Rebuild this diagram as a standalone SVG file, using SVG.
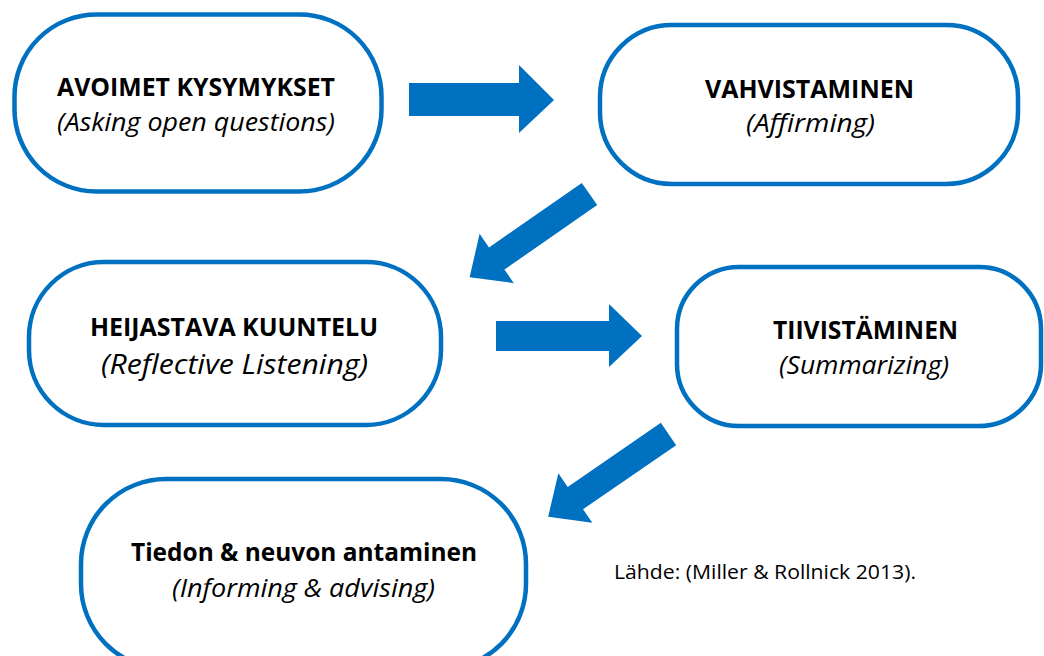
<svg xmlns="http://www.w3.org/2000/svg" width="1044" height="656" viewBox="0 0 1044 656">
<style>
.node{fill:#ffffff;stroke:#0070C0;stroke-width:4.5}
.arrow{fill:#0070C0;stroke:none}
.b{font-family:"Open Sans","Noto Sans","Liberation Sans",sans-serif;font-weight:bold;font-size:25px;fill:#000}
.i{font-family:"Open Sans","Noto Sans","Liberation Sans",sans-serif;font-style:italic;font-size:25px;fill:#000}
.r{font-family:"Open Sans","Noto Sans","Liberation Sans",sans-serif;font-size:20px;fill:#000}
</style>
<defs>
<polygon id="diag" points="0,-13.5 113,-13.5 113,-30 146,0 113,30 113,13.5 0,13.5"/>
</defs>
<rect width="1044" height="656" fill="#ffffff"/>
<g id="connectors">
<polygon class="arrow" points="409,83 519,83 519,65 554,100 519,133 519,116 409,116"/>
<use href="#diag" class="arrow" transform="translate(589.5,194) rotate(145.2)"/>
<polygon class="arrow" points="496,321 609,321 609,304 642,336 609,367 609,351 496,351"/>
<use href="#diag" class="arrow" transform="translate(668.5,434) rotate(145.5)"/>
</g>
<g id="node-avoimet">
<rect class="node" x="14.5" y="14.5" width="367" height="177" rx="82" ry="82"/>
<text class="b" x="57" y="96" textLength="278" lengthAdjust="spacingAndGlyphs">AVOIMET KYSYMYKSET</text>
<text class="i" x="57" y="131" textLength="278" lengthAdjust="spacingAndGlyphs">(Asking open questions)</text>
</g>
<g id="node-vahvistaminen">
<rect class="node" x="600" y="25" width="418" height="159" rx="72" ry="72"/>
<text class="b" x="705" y="98" textLength="209" lengthAdjust="spacingAndGlyphs">VAHVISTAMINEN</text>
<text class="i" x="746" y="132" textLength="129" lengthAdjust="spacingAndGlyphs">(Affirming)</text>
</g>
<g id="node-heijastava">
<rect class="node" x="29" y="262" width="412" height="163" rx="75" ry="75"/>
<text class="b" x="90" y="336" textLength="288" lengthAdjust="spacingAndGlyphs">HEIJASTAVA KUUNTELU</text>
<text class="i" x="101" y="374" style="font-size:28px" textLength="267" lengthAdjust="spacingAndGlyphs">(Reflective Listening)</text>
</g>
<g id="node-tiivistaminen">
<rect class="node" x="677" y="267" width="364" height="159" rx="62" ry="62"/>
<text class="b" x="773" y="339" textLength="185" lengthAdjust="spacingAndGlyphs">TIIVISTÄMINEN</text>
<text class="i" x="779" y="374" textLength="170" lengthAdjust="spacingAndGlyphs">(Summarizing)</text>
</g>
<g id="node-tiedon">
<rect class="node" x="81" y="479" width="445" height="190" rx="85" ry="85"/>
<text class="b" x="131" y="561" textLength="346" lengthAdjust="spacingAndGlyphs">Tiedon &amp; neuvon antaminen</text>
<text class="i" x="172" y="597" textLength="263" lengthAdjust="spacingAndGlyphs">(Informing &amp; advising)</text>
</g>
<g id="source">
<text class="r" x="614" y="579" textLength="302" lengthAdjust="spacingAndGlyphs">Lähde: (Miller &amp; Rollnick 2013).</text>
</g>
</svg>
